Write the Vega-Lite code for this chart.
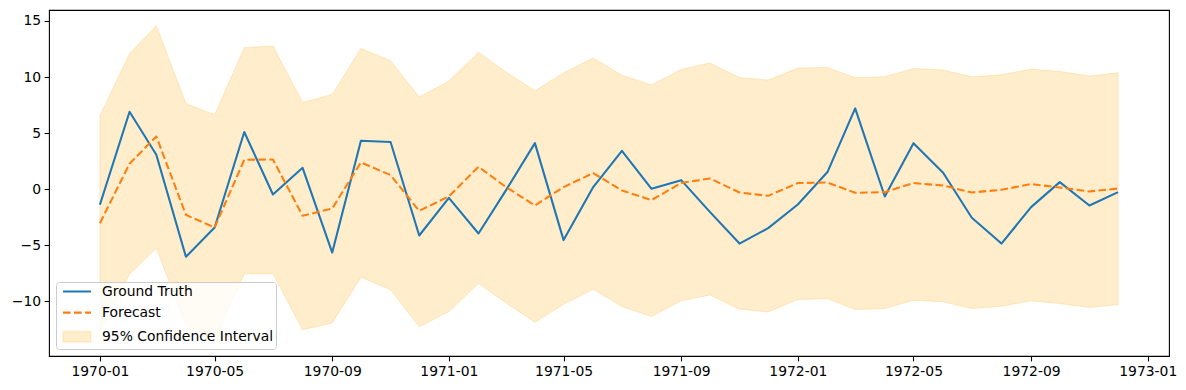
{
  "$schema": "https://vega.github.io/schema/vega-lite/v6.json",
  "width": 1120,
  "height": 346,
  "autosize": "none",
  "padding": {"left": 49, "top": 10, "right": 17, "bottom": 34},
  "background": "white",
  "config": {
    "font": "DejaVu Sans",
    "view": {"stroke": "black", "strokeWidth": 1.1},
    "axis": {
      "domain": false, "grid": false, "ticks": true,
      "tickColor": "black", "tickSize": 4.9, "tickWidth": 1.1,
      "labelFont": "DejaVu Sans", "labelFontSize": 13.9, "labelColor": "black",
      "labelPadding": 3.5, "labelFlush": false, "labelOverlap": false, "title": null
    }
  },
  "data": {"values": [
    {"date": "1970-01-01", "truth": -1.40, "forecast": -3.04, "lower": -12.62, "upper": 6.54},
    {"date": "1970-02-01", "truth": 6.90, "forecast": 2.26, "lower": -7.60, "upper": 12.08},
    {"date": "1970-03-01", "truth": 3.06, "forecast": 4.70, "lower": -5.25, "upper": 14.58},
    {"date": "1970-04-01", "truth": -6.04, "forecast": -2.30, "lower": -12.20, "upper": 7.64},
    {"date": "1970-05-01", "truth": -3.43, "forecast": -3.43, "lower": -13.49, "upper": 6.63},
    {"date": "1970-06-01", "truth": 5.09, "forecast": 2.62, "lower": -7.56, "upper": 12.62},
    {"date": "1970-07-01", "truth": -0.48, "forecast": 2.64, "lower": -7.56, "upper": 12.77},
    {"date": "1970-08-01", "truth": 1.90, "forecast": -2.38, "lower": -12.55, "upper": 7.73},
    {"date": "1970-09-01", "truth": -5.66, "forecast": -1.73, "lower": -11.94, "upper": 8.45},
    {"date": "1970-10-01", "truth": 4.31, "forecast": 2.38, "lower": -7.86, "upper": 12.55},
    {"date": "1970-11-01", "truth": 4.20, "forecast": 1.25, "lower": -8.99, "upper": 11.46},
    {"date": "1970-12-01", "truth": -4.14, "forecast": -1.94, "lower": -12.29, "upper": 8.21},
    {"date": "1971-01-01", "truth": -0.78, "forecast": -0.65, "lower": -10.93, "upper": 9.64},
    {"date": "1971-02-01", "truth": -3.96, "forecast": 1.99, "lower": -8.43, "upper": 12.20},
    {"date": "1971-03-01", "truth": -0.20, "forecast": 0.23, "lower": -10.10, "upper": 10.50},
    {"date": "1971-04-01", "truth": 4.10, "forecast": -1.46, "lower": -11.88, "upper": 8.78},
    {"date": "1971-05-01", "truth": -4.55, "forecast": 0.18, "lower": -10.27, "upper": 10.36},
    {"date": "1971-06-01", "truth": 0.18, "forecast": 1.43, "lower": -8.93, "upper": 11.70},
    {"date": "1971-07-01", "truth": 3.42, "forecast": -0.12, "lower": -10.48, "upper": 10.15},
    {"date": "1971-08-01", "truth": 0.03, "forecast": -0.98, "lower": -11.37, "upper": 9.29},
    {"date": "1971-09-01", "truth": 0.80, "forecast": 0.54, "lower": -9.97, "upper": 10.68},
    {"date": "1971-10-01", "truth": -2.03, "forecast": 0.95, "lower": -9.44, "upper": 11.25},
    {"date": "1971-11-01", "truth": -4.86, "forecast": -0.30, "lower": -10.71, "upper": 9.96},
    {"date": "1971-12-01", "truth": -3.48, "forecast": -0.60, "lower": -10.96, "upper": 9.73},
    {"date": "1972-01-01", "truth": -1.37, "forecast": 0.54, "lower": -9.86, "upper": 10.80},
    {"date": "1972-02-01", "truth": 1.52, "forecast": 0.59, "lower": -9.77, "upper": 10.86},
    {"date": "1972-03-01", "truth": 7.20, "forecast": -0.33, "lower": -10.75, "upper": 9.94},
    {"date": "1972-04-01", "truth": -0.66, "forecast": -0.27, "lower": -10.66, "upper": 10.03},
    {"date": "1972-05-01", "truth": 4.10, "forecast": 0.54, "lower": -9.91, "upper": 10.77},
    {"date": "1972-06-01", "truth": 1.46, "forecast": 0.32, "lower": -10.06, "upper": 10.62},
    {"date": "1972-07-01", "truth": -2.56, "forecast": -0.30, "lower": -10.66, "upper": 10.03},
    {"date": "1972-08-01", "truth": -4.86, "forecast": -0.06, "lower": -10.45, "upper": 10.20},
    {"date": "1972-09-01", "truth": -1.61, "forecast": 0.45, "lower": -9.97, "upper": 10.71},
    {"date": "1972-10-01", "truth": 0.62, "forecast": 0.14, "lower": -10.21, "upper": 10.50},
    {"date": "1972-11-01", "truth": -1.46, "forecast": -0.21, "lower": -10.57, "upper": 10.09},
    {"date": "1972-12-01", "truth": -0.27, "forecast": 0.05, "lower": -10.30, "upper": 10.38}
  ]},
  "encoding": {
    "x": {
      "field": "date", "type": "temporal",
      "scale": {"type": "utc", "domain": [
        {"year": 1969, "month": 11, "date": 8, "hours": 18, "utc": true},
        {"year": 1973, "month": 1, "date": 23, "hours": 6, "utc": true}
      ]},
      "axis": {
        "labelExpr": "utcFormat(datum.value, '%Y-%m')",
        "values": [
          {"year": 1970, "month": 1, "date": 1, "utc": true},
          {"year": 1970, "month": 5, "date": 1, "utc": true},
          {"year": 1970, "month": 9, "date": 1, "utc": true},
          {"year": 1971, "month": 1, "date": 1, "utc": true},
          {"year": 1971, "month": 5, "date": 1, "utc": true},
          {"year": 1971, "month": 9, "date": 1, "utc": true},
          {"year": 1972, "month": 1, "date": 1, "utc": true},
          {"year": 1972, "month": 5, "date": 1, "utc": true},
          {"year": 1972, "month": 9, "date": 1, "utc": true},
          {"year": 1973, "month": 1, "date": 1, "utc": true}
        ]
      }
    }
  },
  "layer": [
    {
      "mark": {"type": "area", "fillOpacity": 0.2, "stroke": "orange", "strokeOpacity": 0.2, "strokeWidth": 1},
      "encoding": {
        "y": {"field": "lower", "type": "quantitative",
              "scale": {"domain": [-14.89, 15.98], "nice": false, "zero": false},
              "axis": {"values": [-10, -5, 0, 5, 10, 15]}},
        "y2": {"field": "upper"},
        "color": {
          "datum": "95% Confidence Interval",
          "scale": {"domain": ["Ground Truth", "Forecast", "95% Confidence Interval"],
                    "range": ["#1f77b4", "#ff7f0e", "orange"]},
          "legend": {
            "title": null, "orient": "bottom-left", "offset": 7,
            "labelFont": "DejaVu Sans", "labelFontSize": 13.9, "labelColor": "black",
            "labelLimit": 400, "labelOffset": 18,
            "padding": 2.5, "strokeColor": "#cccccc", "fillColor": "rgba(255,255,255,0.8)",
            "cornerRadius": 3, "symbolSize": 121, "symbolStrokeWidth": 2.08,
            "symbolOffset": 11.5, "rowPadding": 7.1,
            "encoding": {"symbols": {
              "shape": {"condition": {"test": "datum.value === '95% Confidence Interval'", "value": "M-2.55,-0.98H2.55V0.98H-2.55Z"}, "value": "M-2.55,0H2.55"},
              "fill": {"condition": {"test": "datum.value === '95% Confidence Interval'", "value": "orange"}, "value": "transparent"},
              "fillOpacity": {"condition": {"test": "datum.value === '95% Confidence Interval'", "value": 0.2}, "value": 0},
              "stroke": {"condition": [
                {"test": "datum.value === '95% Confidence Interval'", "value": "orange"},
                {"test": "datum.value === 'Forecast'", "value": "#ff7f0e"}
              ], "value": "#1f77b4"},
              "strokeOpacity": {"condition": {"test": "datum.value === '95% Confidence Interval'", "value": 0.1}, "value": 1},
              "strokeDash": {"condition": {"test": "datum.value === 'Forecast'", "value": [7.7, 3.3]}, "value": [1, 0]},
              "opacity": {"value": 1}
            }}
          }
        }
      }
    },
    {
      "mark": {"type": "line", "strokeWidth": 2.08, "strokeJoin": "round"},
      "encoding": {
        "y": {"field": "truth", "type": "quantitative"},
        "color": {"datum": "Ground Truth"}
      }
    },
    {
      "mark": {"type": "line", "strokeWidth": 2.08, "strokeJoin": "round", "strokeDash": [7.7, 3.3]},
      "encoding": {
        "y": {"field": "forecast", "type": "quantitative"},
        "color": {"datum": "Forecast"}
      }
    }
  ]
}
